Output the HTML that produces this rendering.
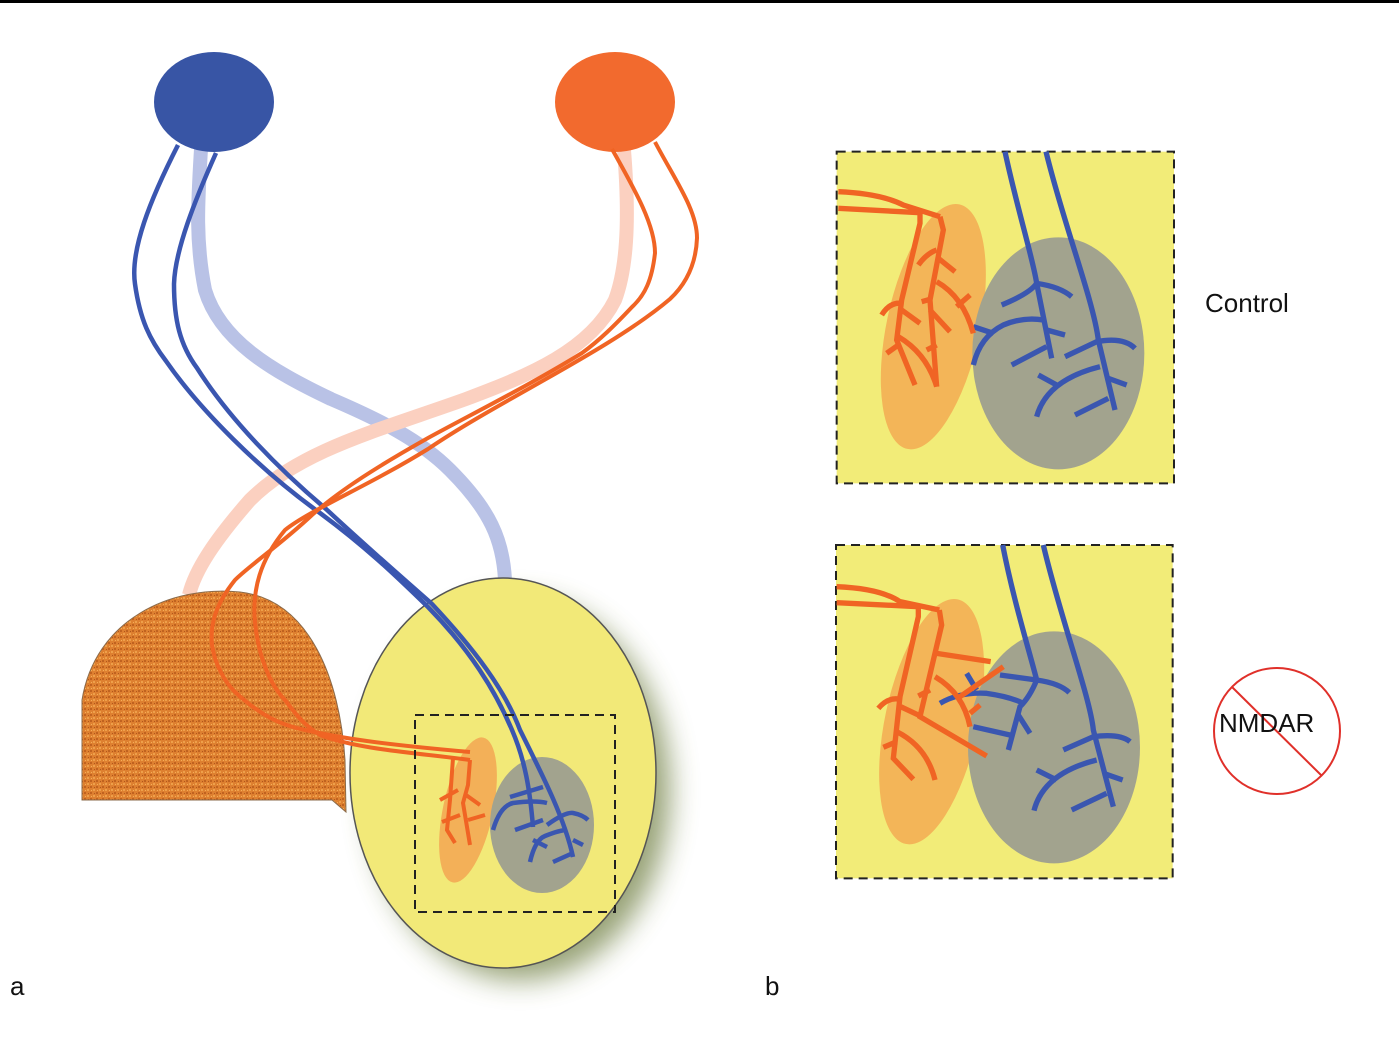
<!DOCTYPE html>
<html><head><meta charset="utf-8"><style>html,body{margin:0;padding:0;background:#fff}svg{display:block}</style></head>
<body>
<svg width="1399" height="1053" viewBox="0 0 1399 1053" xmlns="http://www.w3.org/2000/svg" font-family="Liberation Sans, sans-serif">
<defs>
<filter id="blur" x="-30%" y="-30%" width="160%" height="160%"><feGaussianBlur stdDeviation="14"/></filter>
<pattern id="tex" width="6" height="6" patternUnits="userSpaceOnUse">
<rect width="6" height="6" fill="#de8030"/><rect x="0" y="0" width="2" height="2" fill="#c0621f"/><rect x="3" y="3" width="2" height="2" fill="#eea04a"/><rect x="4" y="1" width="1" height="1" fill="#b0561c"/><rect x="1" y="4" width="1" height="1" fill="#f4ae58"/>
</pattern>
</defs>
<rect width="1399" height="1053" fill="#fff"/>
<rect x="0" y="0" width="1399" height="3" fill="#000"/>

<!-- faint wide paths -->
<path d="M201,149 C198,200 195,240 205,290 C220,340 270,370 331,399 C380,420 420,440 450,470 C490,510 503,540 505,580" fill="none" stroke="#b9c2e6" stroke-width="14"/>
<path d="M624,150 C628,200 630,260 615,300 C590,350 530,375 466,399 C380,430 300,450 250,500 C215,540 195,570 189,595" fill="none" stroke="#fbd0c0" stroke-width="14"/>

<!-- orange textured dome -->
<path d="M82,800 L82,700 C95,620 170,585 240,592 C310,600 340,680 345,760 L346,812 L332,800 Z" fill="url(#tex)" stroke="#8a6a4a" stroke-width="1"/>

<!-- yellow ellipse with shadow -->
<ellipse cx="520" cy="790" rx="150" ry="190" fill="#6a7a3a" opacity="0.7" filter="url(#blur)"/>
<ellipse cx="503" cy="773" rx="153" ry="195" fill="#f2e978" stroke="#555" stroke-width="1.5"/>

<ellipse cx="214" cy="102" rx="60" ry="50" fill="#3855a5"/>
<ellipse cx="615" cy="102" rx="60" ry="50" fill="#f26a2e"/>

<!-- inset a -->
<ellipse cx="468" cy="810" rx="25" ry="74" transform="rotate(12 468 810)" fill="#f3b058"/>
<ellipse cx="542" cy="825" rx="52" ry="68" fill="#a2a38e"/>

<g fill="none" stroke="#3a56b0" stroke-width="4.5">
<path d="M178,145 C150,200 130,250 135,284 C140,320 150,340 166,361 C200,410 260,470 320,513 C370,550 400,580 428,607 C470,650 495,690 512,730 C525,760 530,790 533,827"/>
<path d="M216,153 C195,200 175,250 174,284 C174,320 180,345 197,368 C230,420 280,470 326,509 C370,550 405,580 432,604 C475,650 505,690 520,730 C545,780 565,820 573,857"/>
<path d="M493,830 Q500,806 513,803 Q535,800 547,803"/>
<path d="M510,797 L543,787"/><path d="M515,830 L543,820"/><path d="M533,840 L547,847"/>
<path d="M530,862 Q535,840 545,836 Q560,830 567,830"/>
<path d="M547,825 Q565,812 573,813 Q583,815 588,820"/>
<path d="M553,862 L573,853"/><path d="M573,840 L583,845"/>
</g>
<g fill="none" stroke="#f06424" stroke-width="4">
<path d="M612,149 C635,190 655,225 655,253 C652,280 645,295 632,307 C615,325 600,340 582,353 C530,385 470,415 428,438 C380,465 340,490 312,515 C280,545 250,565 235,580 C215,605 210,625 212,645 C215,665 225,682 235,692 C260,715 280,725 305,730 C340,738 380,744 470,752"/>
<path d="M655,142 C675,180 697,210 697,238 C696,265 685,285 670,299 C610,350 500,400 428,449 C370,485 310,510 285,530 C260,560 252,590 255,622 C258,655 270,685 285,700 C300,720 306,726 320,735 C360,750 420,753 470,760"/>
<path d="M453,758 L450,800 L447,830 L455,843"/>
<path d="M470,760 L468,785 L463,803 L470,845"/>
<path d="M440,800 L458,790"/><path d="M442,822 L460,815"/><path d="M466,795 L480,805"/><path d="M468,820 L485,815"/>
</g>

<!-- dashed box a -->
<rect x="415" y="715" width="200" height="197" fill="none" stroke="#222" stroke-width="2" stroke-dasharray="9,6"/>

<!-- Control panel -->
<g transform="translate(830,140) scale(0.33333)">
<rect x="20" y="35" width="1012" height="995" fill="#f2ec78" stroke="#222" stroke-width="6" stroke-dasharray="27,18"/>
<ellipse cx="310" cy="560" rx="140" ry="375" transform="rotate(12 310 560)" fill="#f3b558"/>
<ellipse cx="685" cy="640" rx="258" ry="348" fill="#a2a38e"/>
<g fill="none" stroke="#3a56b0" stroke-width="16">
<path d="M525,35 C560,200 610,360 620,430 L665,655"/>
<path d="M648,35 C700,250 790,480 805,600 L855,810"/>
<path d="M515,495 Q600,460 620,430 Q690,440 725,470"/>
<path d="M430,675 Q450,590 520,555 Q580,530 640,540"/><path d="M430,560 L490,580"/>
<path d="M545,675 L650,620"/><path d="M650,570 L705,585"/>
<path d="M705,650 L800,605 Q880,590 915,625"/>
<path d="M620,830 Q650,720 810,680"/><path d="M625,705 L680,735"/>
<path d="M835,715 L890,735"/><path d="M735,825 L835,775"/>
</g>
<g fill="none" stroke="#f06424" stroke-width="16">
<path d="M25,155 Q150,160 220,195 L330,230"/>
<path d="M25,205 L270,218 L270,250 L215,480 L200,600 L255,735"/>
<path d="M330,230 L340,270 L300,480 L320,740"/>
<path d="M265,375 Q290,340 320,330"/><path d="M325,355 L375,395"/>
<path d="M155,525 Q180,485 215,490"/><path d="M215,510 L270,550"/>
<path d="M320,425 Q400,470 430,580"/><path d="M380,500 L420,465"/>
<path d="M275,485 L300,478"/><path d="M300,510 L360,575"/>
<path d="M170,640 L205,615"/><path d="M205,590 Q290,640 320,740"/><path d="M290,630 L320,615"/>
</g>
</g>

<!-- NMDAR panel -->
<g transform="translate(830,540) scale(0.33333)">
<rect x="18" y="15" width="1010" height="1000" fill="#f2ec78" stroke="#222" stroke-width="6" stroke-dasharray="27,18"/>
<ellipse cx="305" cy="545" rx="140" ry="375" transform="rotate(12 305 545)" fill="#f3b558"/>
<ellipse cx="672" cy="622" rx="258" ry="348" fill="#a2a38e"/>
<g fill="none" stroke="#3a56b0" stroke-width="16">
<path d="M518,15 C550,180 600,340 620,420 Q600,470 570,500 L535,630"/>
<path d="M640,15 C690,230 780,470 790,570 L850,800"/>
<path d="M510,405 L620,420 Q690,430 718,458"/>
<path d="M330,490 Q390,455 470,460 Q540,470 580,490"/>
<path d="M410,400 L440,450"/><path d="M430,560 L540,585"/><path d="M565,525 L600,580"/>
<path d="M700,630 L790,590 Q870,580 900,605"/>
<path d="M612,812 Q640,700 800,660"/><path d="M620,690 L680,720"/>
<path d="M820,700 L878,720"/><path d="M725,810 L830,760"/>
</g>
<g fill="none" stroke="#f06424" stroke-width="16">
<path d="M20,140 Q150,145 210,185 L328,210"/>
<path d="M20,188 L265,200 L265,230 L210,470 L190,655 L250,718"/>
<path d="M328,210 L335,255 L270,530 L470,648"/>
<path d="M320,340 L482,365"/><path d="M390,470 L520,380"/>
<path d="M145,505 Q175,470 210,478"/><path d="M212,500 L265,525"/>
<path d="M315,410 Q400,460 420,560"/><path d="M420,520 L450,495"/>
<path d="M265,468 L300,450"/>
<path d="M160,622 L200,605"/><path d="M200,575 Q290,620 315,720"/>
</g>
</g>

<!-- labels -->
<text x="1205" y="312" font-size="26" fill="#111">Control</text>
<circle cx="1277" cy="731" r="63" fill="none" stroke="#e0302a" stroke-width="2"/>
<line x1="1232" y1="687" x2="1322" y2="776" stroke="#e0302a" stroke-width="2"/>
<text x="1219" y="732" font-size="26" fill="#111">NMDAR</text>
<text x="10" y="995" font-size="26" fill="#111">a</text>
<text x="765" y="995" font-size="26" fill="#111">b</text>
</svg>
</body></html>
